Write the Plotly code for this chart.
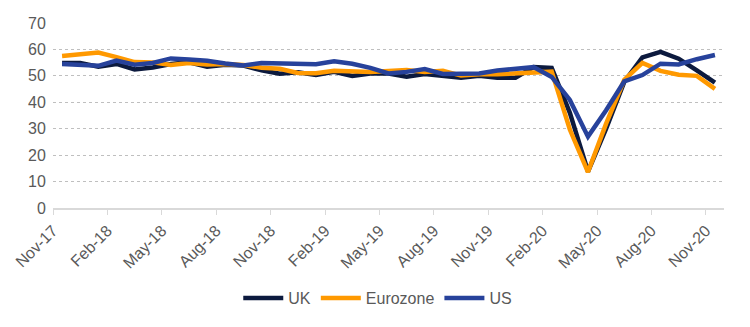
import plotly.graph_objects as go

months = ["Nov-17","Dec-17","Jan-18","Feb-18","Mar-18","Apr-18","May-18","Jun-18","Jul-18","Aug-18",
          "Sep-18","Oct-18","Nov-18","Dec-18","Jan-19","Feb-19","Mar-19","Apr-19","May-19","Jun-19",
          "Jul-19","Aug-19","Sep-19","Oct-19","Nov-19","Dec-19","Jan-20","Feb-20","Mar-20","Apr-20",
          "May-20","Jun-20","Jul-20","Aug-20","Sep-20","Oct-20","Nov-20"]

uk = [54.9, 54.9, 53.5, 54.5, 52.4, 53.2, 54.5, 55.1, 53.5, 54.2,
      53.9, 52.1, 50.8, 51.4, 50.3, 51.5, 50.0, 50.9, 50.9, 49.7,
      50.7, 50.2, 49.3, 50.0, 49.3, 49.3, 53.3, 53.0, 36.0, 13.8,
      30.0, 47.7, 57.0, 59.1, 56.5, 52.1, 47.4]

eurozone = [57.5, 58.1, 58.8, 57.1, 55.2, 55.1, 54.1, 54.9, 54.3, 54.5,
            54.1, 53.1, 52.7, 51.1, 51.0, 51.9, 51.6, 51.5, 51.8, 52.2,
            51.5, 51.9, 50.1, 50.6, 50.6, 50.9, 51.3, 51.6, 29.7, 13.6,
            31.9, 48.5, 54.9, 51.9, 50.4, 50.0, 45.1]

us = [54.5, 54.1, 53.8, 55.8, 54.2, 54.9, 56.6, 56.2, 55.7, 54.7,
      53.9, 54.9, 54.7, 54.4, 54.4, 55.5, 54.6, 53.0, 50.9, 51.5,
      52.6, 50.7, 51.0, 50.9, 52.0, 52.7, 53.3, 49.6, 40.9, 27.0,
      37.0, 47.9, 50.3, 54.6, 54.3, 56.3, 57.9]

tick_labels = months[::3]

idx = list(range(len(months)))
tick_pos = [i - 0.5 for i in idx[::3]]

series = [("UK", uk, "#0c1a3e"), ("Eurozone", eurozone, "#ff9900"), ("US", us, "#27429b")]

fig = go.Figure()
for name, vals, col in series:
    fig.add_trace(go.Scatter(x=idx, y=vals, name=name, mode="lines",
                             line=dict(color=col, width=4.5),
                             customdata=months,
                             hovertemplate="%{customdata}: %{y}<extra>" + name + "</extra>"))

fig.update_layout(
    width=750, height=327,
    margin=dict(l=51, r=26, t=23, b=119),
    paper_bgcolor="white", plot_bgcolor="white",
    font=dict(family="Liberation Sans, Arial, sans-serif", size=16, color="#595959"),
    showlegend=True,
    legend=dict(orientation="h", x=0.484, xanchor="center", y=-0.487, yanchor="middle",
                font=dict(size=16, color="#595959"), itemwidth=40, tracegroupgap=0),
    xaxis=dict(range=[-0.5, 36.5], tickmode="array", tickvals=tick_pos, ticktext=tick_labels,
               tickangle=-45, showgrid=False, zeroline=False,
               showline=True, linecolor="#d9d9d9", linewidth=2,
               ticks="outside", ticklen=5, tickcolor="#d9d9d9", tickwidth=1,
               tickfont=dict(size=16, color="#595959")),
    yaxis=dict(range=[0, 70], dtick=10, showgrid=True, gridcolor="#bfbfbf", griddash="dot",
               gridwidth=1, zeroline=False, showline=False,
               ticks="outside", ticklen=3, tickcolor="rgba(0,0,0,0)",
               tickfont=dict(size=16, color="#595959")),
)

fig.write_html("out.html")
